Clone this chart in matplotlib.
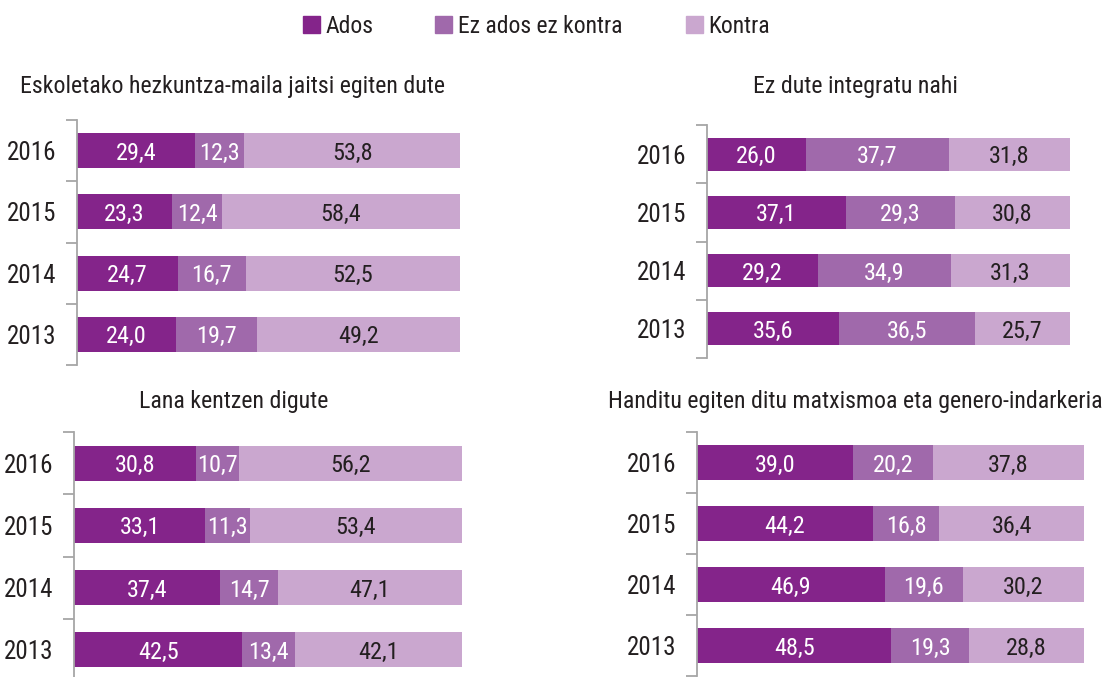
import matplotlib
matplotlib.use("Agg")
import matplotlib.pyplot as plt
from matplotlib import font_manager
from matplotlib.patches import Rectangle

# ---------------- data ----------------
years = ["2016", "2015", "2014", "2013"]
series_names = ["Ados", "Ez ados ez kontra", "Kontra"]

titles = [
    "Eskoletako hezkuntza-maila jaitsi egiten dute",
    "Ez dute integratu nahi",
    "Lana kentzen digute",
    "Handitu egiten ditu matxismoa eta genero-indarkeria",
]

p1_ados = [29.4, 23.3, 24.7, 24.0]
p1_ez = [12.3, 12.4, 16.7, 19.7]
p1_kontra = [53.8, 58.4, 52.5, 49.2]

p2_ados = [26.0, 37.1, 29.2, 35.6]
p2_ez = [37.7, 29.3, 34.9, 36.5]
p2_kontra = [31.8, 30.8, 31.3, 25.7]

p3_ados = [30.8, 33.1, 37.4, 42.5]
p3_ez = [10.7, 11.3, 14.7, 13.4]
p3_kontra = [56.2, 53.4, 47.1, 42.1]

p4_ados = [39.0, 44.2, 46.9, 48.5]
p4_ez = [20.2, 16.8, 19.6, 19.3]
p4_kontra = [37.8, 36.4, 30.2, 28.8]

panels = [
    (p1_ados, p1_ez, p1_kontra),
    (p2_ados, p2_ez, p2_kontra),
    (p3_ados, p3_ez, p3_kontra),
    (p4_ados, p4_ez, p4_kontra),
]

colors = ["#84248A", "#A069AB", "#CAA7CF"]
label_colors = ["white", "white", "#231F20"]
text_color = "#231F20"
spine_color = "#A6A6A6"

# ---------------- font ----------------
names = {f.name for f in font_manager.fontManager.ttflist}
stretch = "normal"
if "Roboto Condensed" in names:
    fam = "Roboto Condensed"
elif "Liberation Sans Narrow" in names:
    fam = "Liberation Sans Narrow"
else:
    fam = "DejaVu Sans"
    stretch = "condensed"
plt.rcParams["font.family"] = fam
plt.rcParams["font.stretch"] = stretch

W, H = 1107, 677
fig = plt.figure(figsize=(W / 100, H / 100), dpi=100)

def px_axes(x0, x1, ytop, ybot):
    return [x0 / W, 1 - ybot / H, (x1 - x0) / W, (ybot - ytop) / H]

# axes rectangles: (spine x, bar end x, top y, bottom y) in pixels
rects = [
    (77, 460, 120, 365),
    (707, 1070, 125, 358),
    (74, 462, 432, 681),
    (697, 1084, 432, 676),
]
bar_h = [0.57, 0.57, 0.56, 0.56]
title_pos = [(233, 93), (855, 93), (234, 408), (855, 408)]

for i, (vals, r) in enumerate(zip(panels, rects)):
    ax = fig.add_axes(px_axes(*r))
    totals = [sum(t) for t in zip(*vals)]
    left = [0.0] * len(years)
    for s, (series, c, lc) in enumerate(zip(vals, colors, label_colors)):
        widths = [v / t for v, t in zip(series, totals)]
        bars = ax.barh(years, widths, left=left, height=bar_h[i], color=c,
                       edgecolor="none", label=series_names[s])
        for b, v in zip(bars, series):
            ax.text(b.get_x() + b.get_width() / 2, b.get_y() + b.get_height() / 2,
                    f"{v:.1f}".replace(".", ","), ha="center", va="center_baseline",
                    color=lc, fontsize=17.5)
        left = [l + w for l, w in zip(left, widths)]
    ax.set_xlim(0, 1)
    ax.set_ylim(len(years) - 0.5, -0.5)
    for sp in ["top", "right", "bottom"]:
        ax.spines[sp].set_visible(False)
    ax.spines["left"].set_color(spine_color)
    ax.spines["left"].set_linewidth(1.3)
    ax.set_xticks([])
    ax.set_yticks(range(len(years)))
    ax.set_yticklabels(years)
    ax.tick_params(axis="y", which="major", length=0, pad=15, labelsize=18,
                   labelcolor=text_color)
    ax.set_yticks([k - 0.5 for k in range(len(years) + 1)], minor=True)
    ax.tick_params(axis="y", which="minor", length=8, width=1.3, color=spine_color)
    tx, ty = title_pos[i]
    fig.text(tx / W, 1 - ty / H, titles[i], ha="center", va="baseline",
             fontsize=17.2, color=text_color)

# legend (manual)
leg_items = [(303, 326), (435, 458), (686, 708)]
for (sx, tx), c, n in zip(leg_items, colors, series_names):
    fig.patches.append(Rectangle((sx / W, 1 - 33 / H), 17 / W, 17 / H,
                                 transform=fig.transFigure, color=c))
    fig.text(tx / W, 1 - 33 / H, n, ha="left", va="baseline", fontsize=17,
             color=text_color)

fig.savefig("out.png", dpi=100)
